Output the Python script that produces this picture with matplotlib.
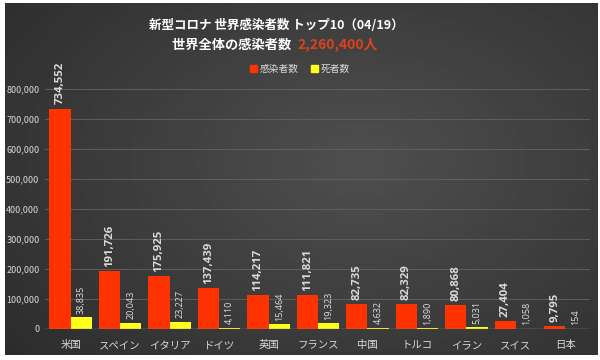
import numpy as np
import matplotlib; matplotlib.use("Agg")
import matplotlib.pyplot as plt
from matplotlib.patches import Patch

plt.rcParams['font.family'] = ['Noto Sans CJK JP', 'DejaVu Sans']

# ---- data (2020-04-19) ----
countries = ['米国', 'スペイン', 'イタリア', 'ドイツ', '英国', 'フランス',
             '中国', 'トルコ', 'イラン', 'スイス', '日本']
infected = [734552, 191726, 175925, 137439, 114217, 111821,
            82735, 82329, 80868, 27404, 9795]
deaths = [38835, 20043, 23227, 4110, 15464, 19323,
          4632, 1890, 5031, 1058, 154]
yticks = [0, 100000, 200000, 300000, 400000, 500000, 600000, 700000, 800000]
total = "2,260,400人"

RED = "#ff3300"
YEL = "#ffff1a"
TXT = "#d9d9d9"

W, H = 600, 360
fig = plt.figure(figsize=(6, 3.6), dpi=100, facecolor="white")

# dark radial-gradient backdrop
bg = fig.add_axes([5/W, 5/H, 593/W, 352/H])
yy, xx = np.mgrid[0:1:200j, 0:1:300j]
r = np.sqrt(((xx - 0.6) / 0.8)**2 + ((yy - 0.55) / 0.9)**2)
shade = np.clip(0.31 - 0.14 * r, 0.13, 0.31)
bg.imshow(shade, cmap="gray", vmin=0, vmax=1, aspect="auto",
          extent=[0, 1, 0, 1], origin="lower")
bg.set_axis_off()

ax = fig.add_axes([45/W, 31/H, 545/W, 270/H])
ax.patch.set_alpha(0)
x = np.arange(len(countries))
bw = 0.43
ax.bar(x - bw/2, infected, bw, color=RED, zorder=3)
ax.bar(x + bw/2, deaths, bw, color=YEL, zorder=3)

for xi, v in zip(x, infected):
    ax.text(xi - bw/2, v + 14000, f"{v:,}", rotation=90, ha="center", va="bottom",
            color=TXT, fontsize=8.2, fontweight="bold", family="Open Sans")
for xi, v in zip(x, deaths):
    ax.text(xi + bw/2, v + 12000, f"{v:,}", rotation=90, ha="center", va="bottom",
            color="#e0e0e0", fontsize=6.5, family="Open Sans")

ax.set_xlim(-0.52, len(countries) - 0.5)
ax.set_ylim(0, 900000)
ax.set_yticks(yticks)
ax.set_yticklabels([f"{t:,}" for t in yticks], fontsize=6.5, color=TXT)
ax.set_xticks(x)
ax.set_xticklabels(countries, fontsize=7.5, color=TXT)
ax.tick_params(length=0, pad=4)
ax.tick_params(axis="x", pad=8)
for t in yticks[1:]:
    ax.axhline(t, color="#5e5e5e", lw=0.7, zorder=1)
ax.axhline(0, color="#8a8a8a", lw=1.0, zorder=4)
for s in ax.spines.values():
    s.set_visible(False)

# titles
fig.text(276/W, 1 - 25/H, "新型コロナ 世界感染者数 トップ10（04/19）",
         ha="center", va="center", color="white", fontsize=9, fontweight="bold")
fig.text(294/W, 1 - 45/H, "世界全体の感染者数 ", ha="right", va="center",
         color="white", fontsize=9.5, fontweight="bold")
fig.text(297/W, 1 - 45/H, total, ha="left", va="center",
         color="#e0401c", fontsize=10, fontweight="bold")

handles = [Patch(color=RED, label="感染者数"), Patch(color=YEL, label="死者数")]
fig.legend(handles=handles, loc="center", bbox_to_anchor=(300/W, 1 - 69/H),
           ncol=2, frameon=False, fontsize=7, labelcolor=TXT,
           handlelength=0.7, handleheight=0.7, handletextpad=0.3,
           columnspacing=1.2)

fig.savefig("out.png", dpi=100, facecolor=fig.get_facecolor())
